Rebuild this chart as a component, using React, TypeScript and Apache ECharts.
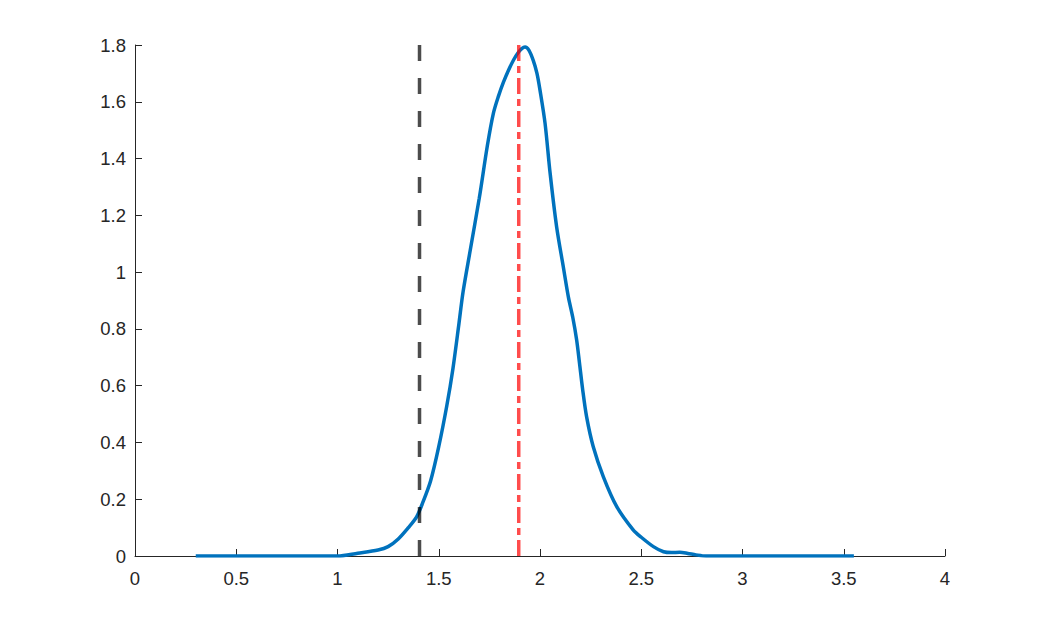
import React, { useEffect, useRef } from "react";
import * as echarts from "echarts";

// Density curve (x, y)
const curveX = [
  0.3, 0.5, 0.8, 1.0, 1.1, 1.2, 1.25, 1.3, 1.35, 1.39, 1.42, 1.46, 1.5, 1.54,
  1.57, 1.6, 1.62, 1.655, 1.7, 1.74, 1.77, 1.795, 1.82, 1.845, 1.87, 1.89, 1.91,
  1.926, 1.945, 1.967, 1.985, 2.0, 2.025, 2.05, 2.082, 2.115, 2.14, 2.162, 2.181,
  2.195, 2.21, 2.23, 2.263, 2.313, 2.379, 2.46, 2.5, 2.56, 2.61, 2.65, 2.69, 2.73,
  2.77, 2.82, 3.0, 3.3, 3.55,
];
const curveY = [
  0, 0, 0, 0, 0.01, 0.021, 0.033, 0.06, 0.1, 0.137, 0.186, 0.265, 0.385, 0.53,
  0.66, 0.82, 0.93, 1.075, 1.26, 1.445, 1.56, 1.62, 1.67, 1.712, 1.748, 1.771,
  1.787, 1.793, 1.782, 1.745, 1.7, 1.641, 1.524, 1.348, 1.16, 1.019, 0.913, 0.84,
  0.761, 0.68, 0.59, 0.491, 0.385, 0.279, 0.174, 0.092, 0.066, 0.033, 0.015, 0.012,
  0.013, 0.009, 0.004, 0, 0, 0, 0,
];

// Vertical reference lines
const blackLineX = 1.405;
const redLineX = 1.895;

// Axis ranges / ticks
const xMin = 0;
const xMax = 4;
const xInterval = 0.5;
const yMin = 0;
const yMax = 1.8;
const yInterval = 0.2;

const fmt = (v: number) => String(parseFloat(v.toFixed(2)));

export default function App() {
  const ref = useRef<HTMLDivElement>(null);

  useEffect(() => {
    if (!ref.current) return;
    const chart = echarts.init(ref.current, undefined, { renderer: "svg" });
    const curve = curveX.map((x, i) => [x, curveY[i]]);
    const axisColor = "#262626";
    const font = "'Liberation Sans', Arial, Helvetica, sans-serif";
    chart.setOption({
      animation: false,
      backgroundColor: "#ffffff",
      grid: { left: 135, right: 97, top: 45, bottom: 69, containLabel: false },
      xAxis: {
        type: "value",
        min: xMin,
        max: xMax,
        interval: xInterval,
        axisLine: { show: true, lineStyle: { color: axisColor, width: 1 } },
        axisTick: { show: true, inside: true, length: 7, lineStyle: { color: axisColor, width: 1 } },
        splitLine: { show: false },
        axisLabel: {
          color: axisColor,
          fontSize: 18.5,
          fontFamily: font,
          margin: 13,
          formatter: (v: number) => fmt(v),
        },
      },
      yAxis: {
        type: "value",
        min: yMin,
        max: yMax,
        interval: yInterval,
        axisLine: { show: true, lineStyle: { color: axisColor, width: 1 } },
        axisTick: { show: true, inside: true, length: 7, lineStyle: { color: axisColor, width: 1 } },
        splitLine: { show: false },
        axisLabel: {
          color: axisColor,
          fontSize: 18.5,
          fontFamily: font,
          margin: 9,
          formatter: (v: number) => fmt(v),
        },
      },
      series: [
        {
          type: "line",
          data: curve,
          smooth: 0.3,
          showSymbol: false,
          z: 2,
          lineStyle: { color: "#0072BD", width: 3.5 },
        },
        {
          type: "line",
          data: [
            [blackLineX, yMin],
            [blackLineX, yMax],
          ],
          showSymbol: false,
          z: 3,
          lineStyle: { color: "rgba(0,0,0,0.7)", width: 3.5, type: [16, 17] },
        },
        {
          type: "line",
          data: [
            [redLineX, yMin],
            [redLineX, yMax],
          ],
          showSymbol: false,
          z: 4,
          lineStyle: { color: "rgba(255,0,0,0.7)", width: 3.5, type: [16, 5, 7, 5] },
        },
      ],
    });
    return () => chart.dispose();
  }, []);

  return (
    <div
      ref={ref}
      style={{ position: "fixed", left: 0, top: 0, width: 1042, height: 625, background: "#fff" }}
    />
  );
}
